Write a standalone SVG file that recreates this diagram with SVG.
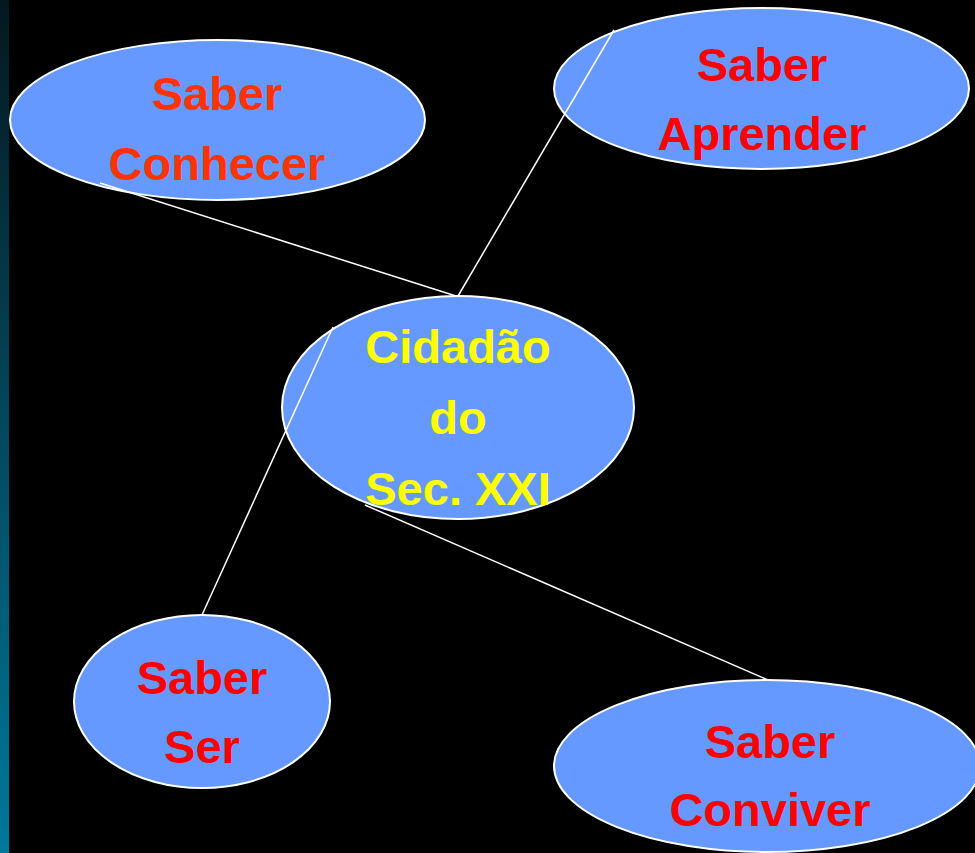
<svg xmlns="http://www.w3.org/2000/svg" width="975" height="853" viewBox="0 0 975 853">
<defs>
<linearGradient id="strip" x1="0" y1="0" x2="0" y2="1">
<stop offset="0" stop-color="#04181e"/>
<stop offset="1" stop-color="#00789c"/>
</linearGradient>
<style>
.node{fill:#6699ff;stroke:#ffffff;stroke-width:2}
.conn{stroke:#ffffff;stroke-width:1.5;fill:none}
.t{font-family:"Liberation Sans",Arial,sans-serif;font-weight:bold;font-size:47px;text-anchor:middle}
.red{fill:#ff0000}
.orange{fill:#ff3300}
.yellow{fill:#ffff00}
</style>
</defs>
<rect x="0" y="0" width="975" height="853" fill="#000000"/>
<rect x="0" y="0" width="9" height="853" fill="url(#strip)"/>
<g id="n-conhecer"><ellipse class="node" cx="217.5" cy="120" rx="207.5" ry="80"/></g>
<g id="n-aprender"><ellipse class="node" cx="761.5" cy="88.5" rx="207.5" ry="80.5"/></g>
<g id="n-cidadao"><ellipse class="node" cx="458" cy="407.5" rx="176" ry="111.5"/></g>
<g id="n-ser"><ellipse class="node" cx="202" cy="701.5" rx="128" ry="86.5"/></g>
<g id="n-conviver"><ellipse class="node" cx="767" cy="766" rx="213" ry="86"/></g>
<g id="connectors">
<line class="conn" x1="100" y1="183" x2="456" y2="296"/>
<line class="conn" x1="614" y1="30" x2="458" y2="296"/>
<line class="conn" x1="333" y1="327" x2="202" y2="615"/>
<line class="conn" x1="365" y1="505" x2="768" y2="680"/>
</g>
<g id="labels">
<text class="t orange" x="217" y="110">Saber</text>
<text class="t orange" x="217" y="180">Conhecer</text>
<text class="t red" x="762" y="81">Saber</text>
<text class="t red" x="762" y="150">Aprender</text>
<text class="t yellow" x="458" y="363">Cidadão</text>
<text class="t yellow" x="458" y="434">do</text>
<text class="t yellow" x="458" y="505">Sec. XXI</text>
<text class="t red" x="202" y="694">Saber</text>
<text class="t red" x="202" y="763">Ser</text>
<text class="t red" x="770" y="758">Saber</text>
<text class="t red" x="770" y="826">Conviver</text>
</g>
</svg>
